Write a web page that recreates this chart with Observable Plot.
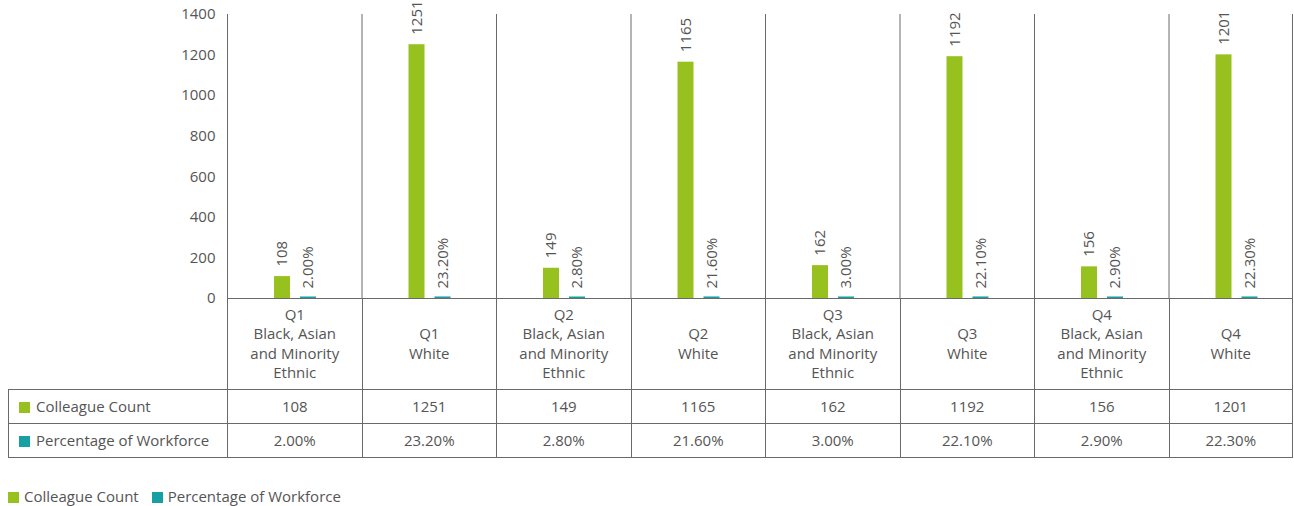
<!DOCTYPE html>
<html>
<head>
<meta charset="utf-8">
<script src="https://cdn.jsdelivr.net/npm/d3@7"></script>
<script src="https://cdn.jsdelivr.net/npm/@observablehq/plot@0.6"></script>
<style>
  html, body { margin: 0; padding: 0; background: #fff; }
  body { font-family: "Open Sans", sans-serif; color: #555; }
  #wrap { position: relative; width: 1294px; height: 506px; overflow: hidden; }
  #chart { position: absolute; left: 0; top: 0; }
  #tbl { position: absolute; left: 8px; top: 298px; border-collapse: collapse; table-layout: fixed; font-size: 15px; color: #555; }
  #tbl td { border: 1px solid #6a6a6a; text-align: center; vertical-align: middle; padding: 0; line-height: 19.5px; }
  #tbl tr.cat td { height: 91px; white-space: pre-line; border-top: none; }
  #tbl tr.cat td.blank { border: none; border-right: 1px solid #6a6a6a; }
  #tbl tr.val td { height: 33px; }
  #tbl td.head { text-align: left; padding-left: 10px; white-space: nowrap; }
  .sw { display: inline-block; width: 11px; height: 11px; margin-right: 6px; vertical-align: -1px; }
  #legend { position: absolute; left: 8px; top: 486px; font-size: 15px; color: #555; white-space: nowrap; }
  #legend span.item { margin-right: 13px; }
  #legend .sw { margin-right: 5px; }
</style>
</head>
<body>
<div id="wrap">
  <div id="chart"></div>
  <table id="tbl"></table>
  <div id="legend"></div>
</div>
<script>
// ---- data ----
const quarters = ["Q1", "Q1", "Q2", "Q2", "Q3", "Q3", "Q4", "Q4"];
const groups = [
  "Black, Asian\nand Minority\nEthnic", "White",
  "Black, Asian\nand Minority\nEthnic", "White",
  "Black, Asian\nand Minority\nEthnic", "White",
  "Black, Asian\nand Minority\nEthnic", "White"
];
const colleagueCount = [108, 1251, 149, 1165, 162, 1192, 156, 1201];
const percentWorkforce = [2.00, 23.20, 2.80, 21.60, 3.00, 22.10, 2.90, 22.30];
const yTicks = [0, 200, 400, 600, 800, 1000, 1200, 1400];
const seriesNames = ["Colleague Count", "Percentage of Workforce"];
const seriesColors = ["#97c11f", "#17a0a4"];

// ---- layout ----
const svgWidth = 1293;
const left = 227;        // plot left edge
const colW = 134.5;      // category column width
const rightEdge = 1292;  // visible right border
const nCols = quarters.length;
const lastW = rightEdge - (left + (nCols - 1) * colW);

const keys = quarters.map((q, i) => q + " " + groups[i]);
const data = keys.map((k, i) => ({
  key: k,
  count: colleagueCount[i],
  pct: percentWorkforce[i]
}));
const fmtPct = v => v.toFixed(2) + "%";

const barW = 16;
const greenLeft = 47, tealLeft = 73;
const labelStyle = {fontSize: 15, fill: "#555", fontFamily: "Open Sans", rotate: -90, textAnchor: "start", dy: -10};

const chart = Plot.plot({
  width: svgWidth,
  height: 312,
  marginTop: 14,
  marginBottom: 14,
  marginLeft: left,
  marginRight: svgWidth - (left + nCols * colW),
  style: {fontFamily: "Open Sans", fontSize: "15px", color: "#555", background: "transparent", overflow: "hidden"},
  x: {type: "band", domain: keys, padding: 0, round: false, axis: null},
  y: {domain: [0, 1400], ticks: yTicks, tickSize: 0, tickPadding: 12, label: null, tickFormat: d => String(d)},
  marks: [
    Plot.ruleX(keys, {x: d => d, y1: 0, y2: 1400, dx: -colW / 2, stroke: "#6a6a6a"}),
    Plot.ruleX(keys.slice(-1), {x: d => d, y1: 0, y2: 1400, dx: lastW - colW / 2, stroke: "#6a6a6a"}),
    Plot.barY(data, {x: "key", y: "count", fill: seriesColors[0], insetLeft: greenLeft, insetRight: colW - greenLeft - barW}),
    Plot.barY(data, {x: "key", y: d => d.pct / 100, fill: seriesColors[1], insetLeft: tealLeft, insetRight: colW - tealLeft - barW, insetTop: -1.5}),
    Plot.ruleY([0], {stroke: "#6a6a6a"}),
    Plot.text(data, {x: "key", y: "count", text: d => String(d.count), dx: greenLeft + barW / 2 - colW / 2, ...labelStyle}),
    Plot.text(data, {x: "key", y: d => d.pct / 100, text: d => fmtPct(d.pct), dx: tealLeft + barW / 2 - colW / 2, ...labelStyle})
  ]
});
document.getElementById("chart").appendChild(chart);

// ---- table ----
const tbl = document.getElementById("tbl");
const cg = document.createElement("colgroup");
const colWidths = [left - 8, ...Array(nCols - 1).fill(colW), lastW];
colWidths.forEach(w => { const c = document.createElement("col"); c.style.width = w + "px"; cg.appendChild(c); });
tbl.appendChild(cg);
tbl.style.width = colWidths.reduce((a, b) => a + b, 0) + "px";

const trCat = document.createElement("tr");
trCat.className = "cat";
const blank = document.createElement("td"); blank.className = "blank"; trCat.appendChild(blank);
keys.forEach((k, i) => { const td = document.createElement("td"); td.textContent = quarters[i] + "\n" + groups[i]; trCat.appendChild(td); });
tbl.appendChild(trCat);

[[colleagueCount.map(String)], [percentWorkforce.map(fmtPct)]].forEach(([vals], r) => {
  const tr = document.createElement("tr"); tr.className = "val";
  const th = document.createElement("td"); th.className = "head";
  th.innerHTML = `<span class="sw" style="background:${seriesColors[r]}"></span>${seriesNames[r]}`;
  tr.appendChild(th);
  vals.forEach(v => { const td = document.createElement("td"); td.textContent = v; tr.appendChild(td); });
  tbl.appendChild(tr);
});

// ---- legend ----
document.getElementById("legend").innerHTML = seriesNames.map((n, i) =>
  `<span class="item"><span class="sw" style="background:${seriesColors[i]}"></span>${n}</span>`).join("");
</script>
</body>
</html>
